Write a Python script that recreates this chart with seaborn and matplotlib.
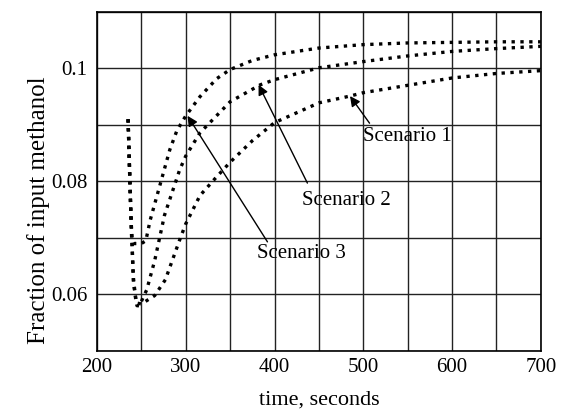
import matplotlib
matplotlib.use("Agg")
import matplotlib.pyplot as plt
from matplotlib.ticker import MultipleLocator
import seaborn as sns
import pandas as pd

sns.set_theme(style="white")
plt.rcParams["font.family"] = ["Liberation Serif", "DejaVu Serif"]

# Methanol fraction response for each scenario
time_s1 = [235, 238, 241, 244, 250, 255, 265, 277, 293, 300, 316, 333, 350, 375, 400, 450,
           485, 500, 550, 600, 650, 700]
frac_s1 = [0.091, 0.075, 0.063, 0.0585, 0.0583, 0.0588, 0.0598, 0.0626, 0.0696, 0.0725,
           0.0775, 0.0805, 0.0834, 0.0872, 0.0904, 0.0939, 0.0951, 0.0957, 0.0970, 0.0983,
           0.0991, 0.0996]

time_s2 = [235, 238, 241, 245, 248, 252, 256, 265, 276, 293, 300, 316, 350, 384, 400, 450,
           500, 550, 600, 650, 700]
frac_s2 = [0.091, 0.075, 0.062, 0.058, 0.058, 0.0595, 0.0608, 0.066, 0.074, 0.082, 0.0845,
           0.0886, 0.0941, 0.0971, 0.0980, 0.1001, 0.1012, 0.1022, 0.1030, 0.1035, 0.1039]

time_s3 = [235, 237, 239, 242, 250, 255, 260, 271, 282, 290, 300, 316, 335, 350, 375, 400,
           450, 500, 550, 600, 650, 700]
frac_s3 = [0.091, 0.080, 0.070, 0.069, 0.069, 0.0695, 0.0732, 0.0794, 0.0856, 0.0890,
           0.0916, 0.0950, 0.0982, 0.0998, 0.1014, 0.1024, 0.1036, 0.1042, 0.1045, 0.1046,
           0.1047, 0.1047]

labels = ["Scenario 1", "Scenario 2", "Scenario 3"]

# Callout text anchors (left edge, centre) and arrow tail / tip points
label_pos = [(500, 0.0879), (431, 0.0767), (380, 0.0673)]
arrow_tail = [(507, 0.0903), (437, 0.0797), (392, 0.0693)]
arrow_tip = [(485, 0.0951), (382, 0.0971), (302, 0.0916)]

df = pd.concat([
    pd.DataFrame({"time": time_s1, "frac": frac_s1, "scenario": labels[0]}),
    pd.DataFrame({"time": time_s2, "frac": frac_s2, "scenario": labels[1]}),
    pd.DataFrame({"time": time_s3, "frac": frac_s3, "scenario": labels[2]}),
])

fig = plt.figure(figsize=(5.64, 4.09), dpi=100)
ax = fig.add_axes([0.172, 0.142, 0.787, 0.829])

for name in labels:
    sub = df[df["scenario"] == name]
    sns.lineplot(data=sub, x="time", y="frac", ax=ax, color="black",
                 linestyle=":", linewidth=2.4, sort=False, estimator=None)

ax.set_xlim(200, 700)
ax.set_ylim(0.05, 0.11)
ax.xaxis.set_major_locator(MultipleLocator(100))
ax.xaxis.set_minor_locator(MultipleLocator(50))
ax.yaxis.set_minor_locator(MultipleLocator(0.01))
ax.set_yticks([0.06, 0.08, 0.10])
ax.set_yticklabels(["0.06", "0.08", "0.1"])
ax.grid(which="both", color="#222222", linewidth=1.0)
ax.tick_params(which="both", length=0, labelsize=15, colors="black")
ax.tick_params(axis="x", pad=5)
ax.tick_params(axis="y", pad=7)
for sp in ax.spines.values():
    sp.set_color("black")
    sp.set_linewidth(1.2)

ax.set_xlabel("time, seconds", fontsize=16, color="black", va="center")
ax.xaxis.set_label_coords(0.5, -0.145)
ax.set_ylabel("Fraction of input methanol", fontsize=18, color="black", va="center")
ax.yaxis.set_label_coords(-0.131, 0.416)

arrow = dict(arrowstyle="-|>", color="black", lw=1.0, mutation_scale=15,
             shrinkA=0, shrinkB=0)
for name, pos, tail, tip in zip(labels, label_pos, arrow_tail, arrow_tip):
    ax.annotate("", xy=tip, xytext=tail, arrowprops=arrow)
    ax.text(pos[0], pos[1], name, fontsize=15, va="center", ha="left", color="black")

fig.savefig("out.png", dpi=100)
